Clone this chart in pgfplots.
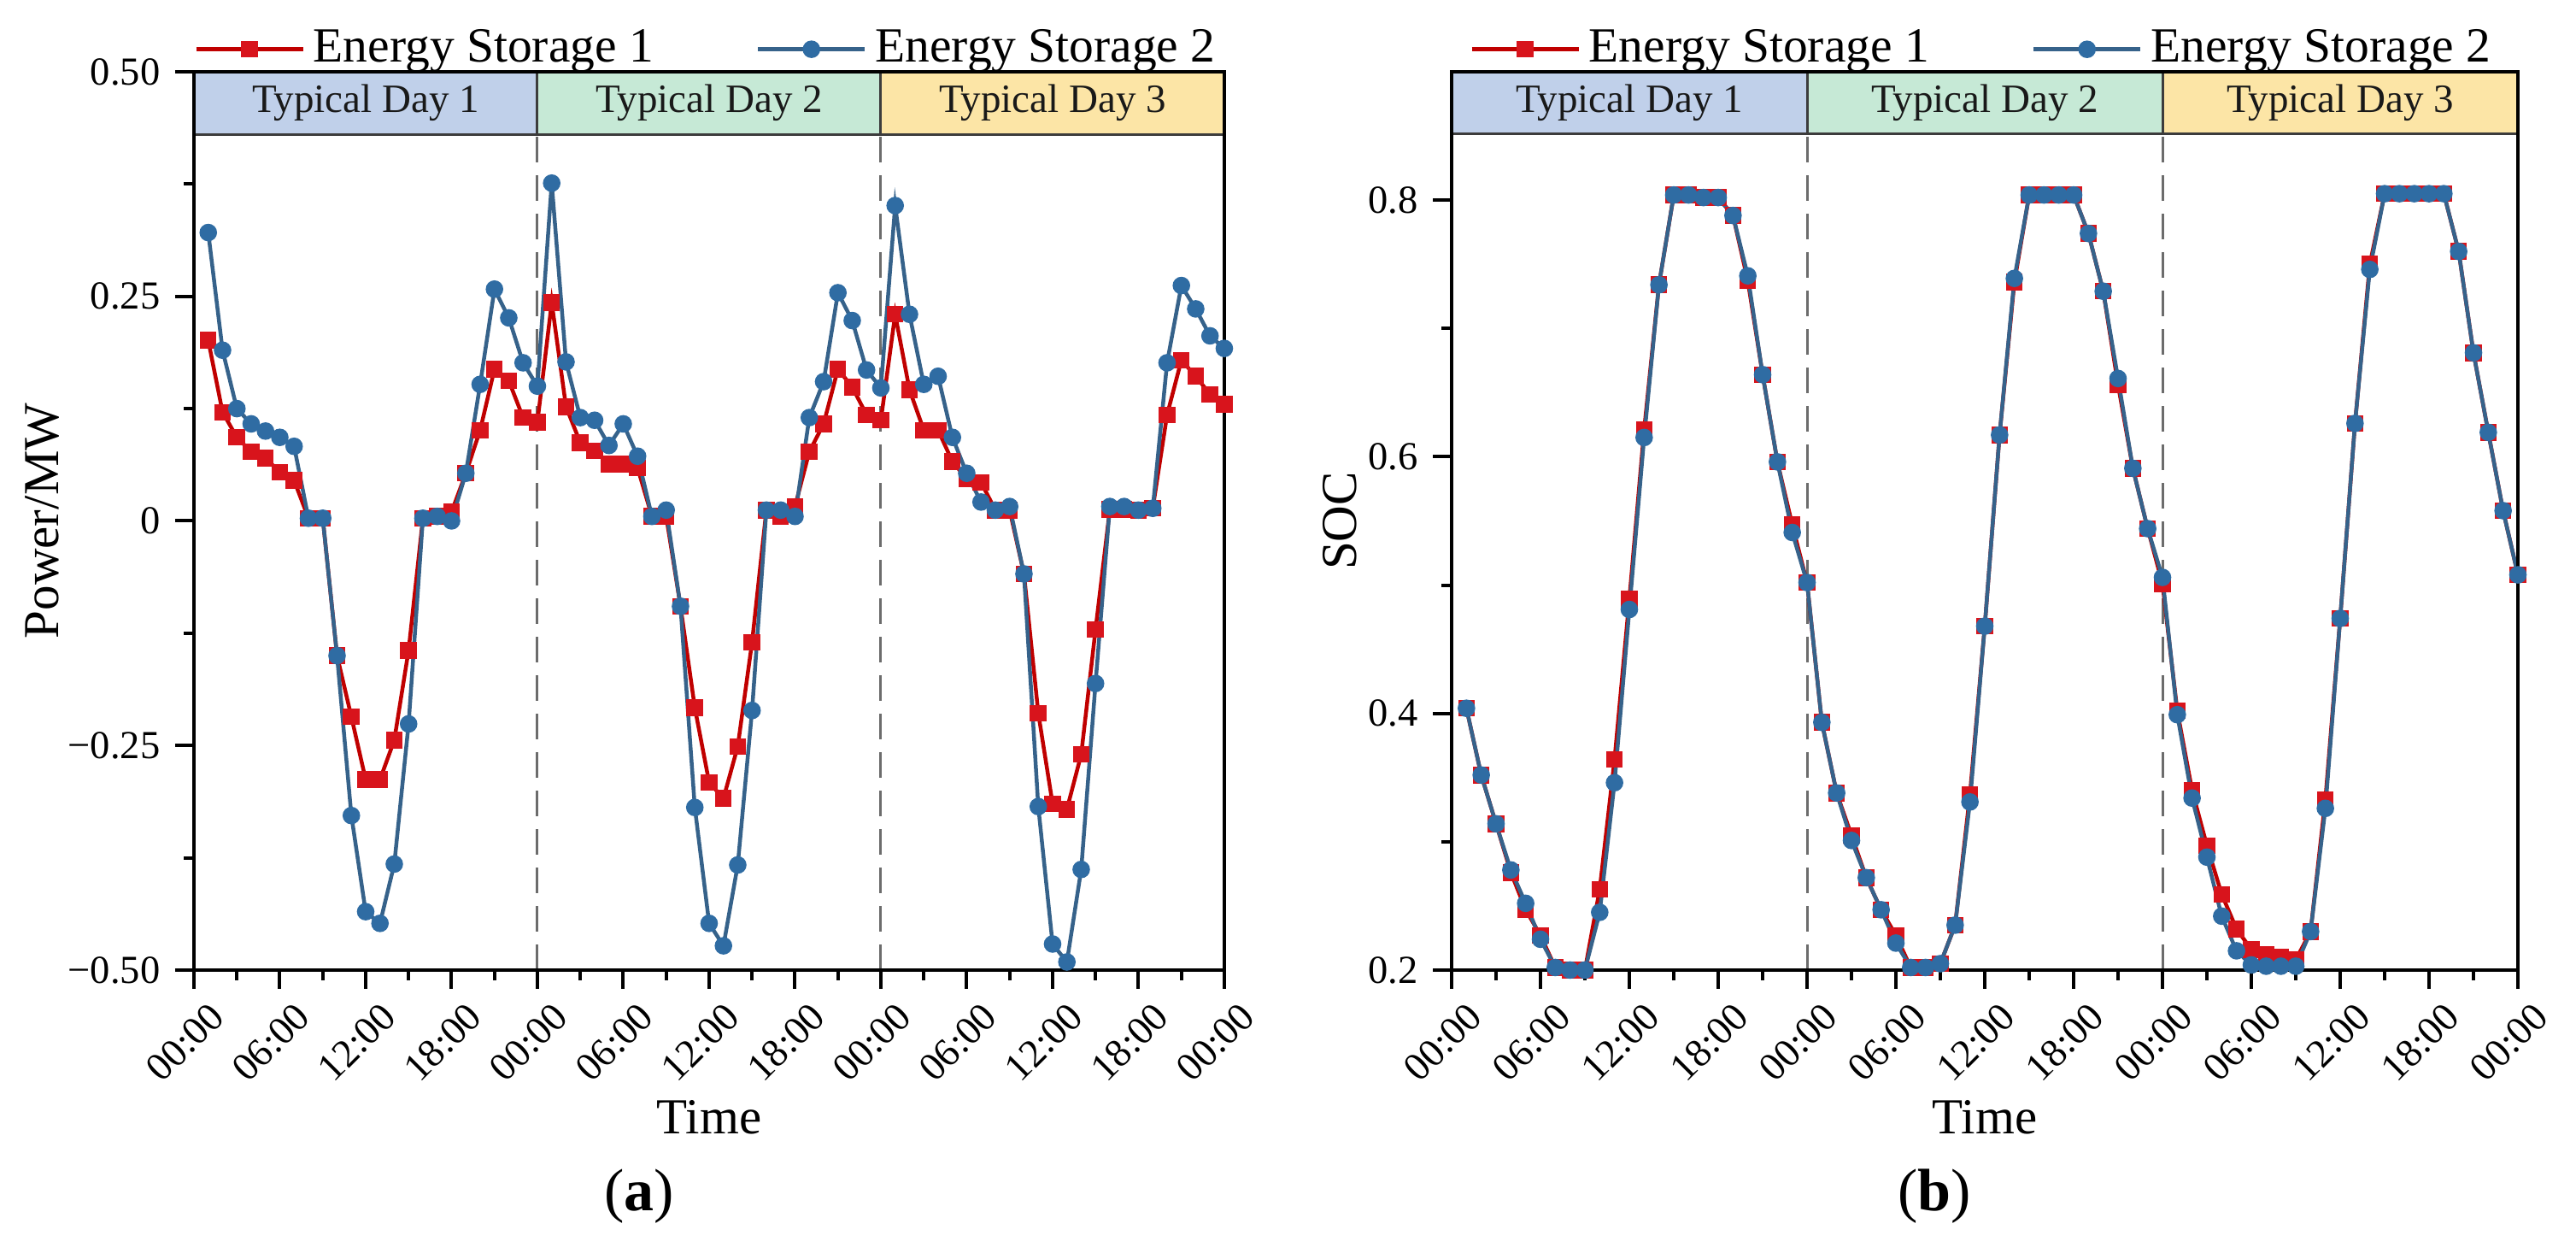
\documentclass[border=0pt]{standalone}
\usepackage{pgfplots}
\usepackage{pgfplotstable}
\pgfplotsset{compat=1.18}
\usepackage{fontspec}
\setmainfont{Liberation Serif}

\definecolor{redline}{HTML}{C00000}
\definecolor{redmark}{HTML}{D8141C}
\definecolor{blueline}{HTML}{36628A}
\definecolor{bluemark}{HTML}{2F6CA3}
\definecolor{dayA}{HTML}{C0D0EA}
\definecolor{dayB}{HTML}{C6E9D6}
\definecolor{dayC}{HTML}{FCE5A6}
\definecolor{hdr}{HTML}{3C3C3C}

\pgfplotstableread{
h p1 p2
1 0.201 0.321
2 0.121 0.190
3 0.093 0.125
4 0.077 0.108
5 0.070 0.100
6 0.054 0.093
7 0.045 0.083
8 0.003 0.003
9 0.003 0.003
10 -0.150 -0.150
11 -0.218 -0.328
12 -0.288 -0.435
13 -0.288 -0.448
14 -0.244 -0.382
15 -0.144 -0.226
16 0.003 0.003
17 0.005 0.005
18 0.010 0.000
19 0.053 0.053
20 0.101 0.152
21 0.169 0.258
22 0.156 0.226
23 0.115 0.176
24 0.110 0.150
25 0.243 0.376
26 0.127 0.177
27 0.087 0.115
28 0.078 0.112
29 0.063 0.084
30 0.063 0.108
31 0.059 0.072
32 0.005 0.005
33 0.005 0.012
34 -0.095 -0.095
35 -0.208 -0.319
36 -0.291 -0.448
37 -0.309 -0.473
38 -0.251 -0.383
39 -0.135 -0.211
40 0.012 0.012
41 0.005 0.012
42 0.016 0.005
43 0.077 0.115
44 0.108 0.155
45 0.169 0.254
46 0.149 0.223
47 0.118 0.168
48 0.112 0.148
49 0.230 0.351
50 0.146 0.230
51 0.101 0.152
52 0.101 0.161
53 0.066 0.093
54 0.047 0.053
55 0.043 0.021
56 0.012 0.012
57 0.012 0.016
58 -0.059 -0.059
59 -0.214 -0.318
60 -0.315 -0.471
61 -0.321 -0.491
62 -0.260 -0.388
63 -0.121 -0.181
64 0.013 0.016
65 0.013 0.016
66 0.012 0.012
67 0.014 0.014
68 0.118 0.176
69 0.179 0.262
70 0.161 0.236
71 0.141 0.206
72 0.130 0.192
}\powertable

\pgfplotstableread{
h s1 s2
1 0.404 0.404
2 0.352 0.352
3 0.314 0.314
4 0.276 0.278
5 0.247 0.252
6 0.227 0.224
7 0.202 0.202
8 0.200 0.200
9 0.200 0.200
10 0.263 0.245
11 0.364 0.346
12 0.489 0.481
13 0.621 0.615
14 0.734 0.734
15 0.804 0.804
16 0.804 0.804
17 0.802 0.802
18 0.802 0.802
19 0.788 0.788
20 0.737 0.741
21 0.664 0.664
22 0.596 0.596
23 0.547 0.541
24 0.502 0.502
25 0.393 0.393
26 0.338 0.338
27 0.305 0.301
28 0.272 0.272
29 0.247 0.247
30 0.227 0.221
31 0.202 0.202
32 0.202 0.202
33 0.205 0.205
34 0.235 0.235
35 0.337 0.331
36 0.468 0.468
37 0.617 0.617
38 0.736 0.739
39 0.804 0.804
40 0.804 0.804
41 0.804 0.804
42 0.804 0.804
43 0.774 0.774
44 0.729 0.729
45 0.656 0.661
46 0.591 0.591
47 0.544 0.544
48 0.501 0.506
49 0.402 0.399
50 0.340 0.334
51 0.297 0.288
52 0.259 0.242
53 0.232 0.215
54 0.216 0.204
55 0.212 0.203
56 0.210 0.203
57 0.208 0.203
58 0.230 0.230
59 0.333 0.326
60 0.474 0.474
61 0.626 0.626
62 0.750 0.746
63 0.805 0.805
64 0.805 0.805
65 0.805 0.805
66 0.805 0.805
67 0.805 0.805
68 0.760 0.760
69 0.681 0.681
70 0.619 0.619
71 0.558 0.558
72 0.508 0.508
}\soctable

\pgfplotsset{
  common/.style={
    scale only axis,
    height=210.2pt,
    xmin=0, xmax=72,
    xtick={0,6,...,72},
    minor xtick={3,9,...,69},
    xticklabels={00:00,06:00,12:00,18:00,00:00,06:00,12:00,18:00,00:00,06:00,12:00,18:00,00:00},
    xticklabel style={rotate=45, anchor=north east, font=\fontsize{9.3}{10}\selectfont, inner sep=1pt, xshift=1.5pt, yshift=-3pt},
    yticklabel style={font=\fontsize{9.3}{10}\selectfont},
    tick align=outside,
    xtick pos=bottom, ytick pos=left,
    major tick length=4.4pt, minor tick length=2.4pt,
    axis line style={line width=0.8pt},
    every tick/.style={black, line width=0.8pt},
    axis on top,
    clip=false,
    label style={font=\fontsize{11.8}{13}\selectfont},
    legend columns=2,
    legend style={at={(0.5,1)}, anchor=south, draw=none, fill=none,
      font=\fontsize{11.5}{13}\selectfont, inner sep=0pt, yshift=-1.5pt,
      /tikz/every even column/.append style={column sep=22pt}},
    legend cell align=left,
    legend image code/.code={%
      \draw[mark repeat=2,mark phase=2,#1] plot coordinates {(0pt,0pt) (12.5pt,0pt) (25pt,0pt)};},
  },
  es1/.style={redline, line width=0.9pt, mark=square*, mark size=1.5pt, mark options={fill=redmark, draw=redmark}},
  es2/.style={blueline, line width=0.9pt, mark=*, mark size=1.6pt, mark options={fill=bluemark, draw=bluemark}},
}

\begin{document}
\begin{tikzpicture}
\path[use as bounding box] (0,0) rectangle (603pt,293.2pt);

% ---------- (a) ----------
\begin{axis}[common,
  at={(45.4pt,66.2pt)}, anchor=south west,
  width=241.2pt,
  ymin=-0.5, ymax=0.5,
  ytick={-0.5,-0.25,0,0.25,0.5},
  yticklabels={−0.50,−0.25,0,0.25,0.50},
  minor ytick={-0.375,-0.125,0.125,0.375},
  ylabel={Power/MW},
  ylabel style={at={(axis description cs:-0.1468,0.5)}, anchor=center},
  xlabel={Time},
  xlabel style={at={(axis description cs:0.5,-0.1637)}, anchor=center},
]
\fill[dayA] (axis cs:0,0.43) rectangle (axis cs:24,0.5);
\fill[dayB] (axis cs:24,0.43) rectangle (axis cs:48,0.5);
\fill[dayC] (axis cs:48,0.43) rectangle (axis cs:72,0.5);
\draw[hdr, line width=0.6pt] (axis cs:0,0.43) -- (axis cs:72,0.43);
\draw[hdr, line width=0.6pt] (axis cs:24,0.43) -- (axis cs:24,0.5);
\draw[hdr, line width=0.6pt] (axis cs:48,0.43) -- (axis cs:48,0.5);
\draw[gray!85!black, line width=0.6pt, dash pattern=on 6pt off 3pt] (axis cs:24,-0.5) -- (axis cs:24,0.43);
\draw[gray!85!black, line width=0.6pt, dash pattern=on 6pt off 3pt] (axis cs:48,-0.5) -- (axis cs:48,0.43);
\node[font=\fontsize{9.4}{10}\selectfont, text=black!90] at (axis cs:12,0.465) {Typical Day 1};
\node[font=\fontsize{9.4}{10}\selectfont, text=black!90] at (axis cs:36,0.465) {Typical Day 2};
\node[font=\fontsize{9.4}{10}\selectfont, text=black!90] at (axis cs:60,0.465) {Typical Day 3};
\addplot[es1] table[x=h, y=p1] {\powertable};
\addlegendentry{Energy Storage 1}
\addplot[es2] table[x=h, y=p2] {\powertable};
\addlegendentry{Energy Storage 2}
\node[font=\fontsize{14}{16}\selectfont] at (axis description cs:0.432,-0.2521) {(\textbf{a})};
\end{axis}

% ---------- (b) ----------
\begin{axis}[common,
  at={(339.8pt,66.2pt)}, anchor=south west,
  width=249.6pt,
  ymin=0.2, ymax=0.9,
  ytick={0.2,0.4,0.6,0.8},
  yticklabels={0.2,0.4,0.6,0.8},
  minor ytick={0.3,0.5,0.7},
  ylabel={SOC},
  ylabel style={at={(axis description cs:-0.105,0.5)}, anchor=center},
  xlabel={Time},
  xlabel style={at={(axis description cs:0.5,-0.1637)}, anchor=center},
]
\fill[dayA] (axis cs:0,0.852) rectangle (axis cs:24,0.9);
\fill[dayB] (axis cs:24,0.852) rectangle (axis cs:48,0.9);
\fill[dayC] (axis cs:48,0.852) rectangle (axis cs:72,0.9);
\draw[hdr, line width=0.6pt] (axis cs:0,0.852) -- (axis cs:72,0.852);
\draw[hdr, line width=0.6pt] (axis cs:24,0.852) -- (axis cs:24,0.9);
\draw[hdr, line width=0.6pt] (axis cs:48,0.852) -- (axis cs:48,0.9);
\draw[gray!85!black, line width=0.6pt, dash pattern=on 6pt off 3pt] (axis cs:24,0.2) -- (axis cs:24,0.852);
\draw[gray!85!black, line width=0.6pt, dash pattern=on 6pt off 3pt] (axis cs:48,0.2) -- (axis cs:48,0.852);
\node[font=\fontsize{9.4}{10}\selectfont, text=black!90] at (axis cs:12,0.876) {Typical Day 1};
\node[font=\fontsize{9.4}{10}\selectfont, text=black!90] at (axis cs:36,0.876) {Typical Day 2};
\node[font=\fontsize{9.4}{10}\selectfont, text=black!90] at (axis cs:60,0.876) {Typical Day 3};
\addplot[es1] table[x=h, y=s1] {\soctable};
\addlegendentry{Energy Storage 1}
\addplot[es2] table[x=h, y=s2] {\soctable};
\addlegendentry{Energy Storage 2}
\node[font=\fontsize{14}{16}\selectfont] at (axis description cs:0.4527,-0.2521) {(\textbf{b})};
\end{axis}
\end{tikzpicture}
\end{document}
